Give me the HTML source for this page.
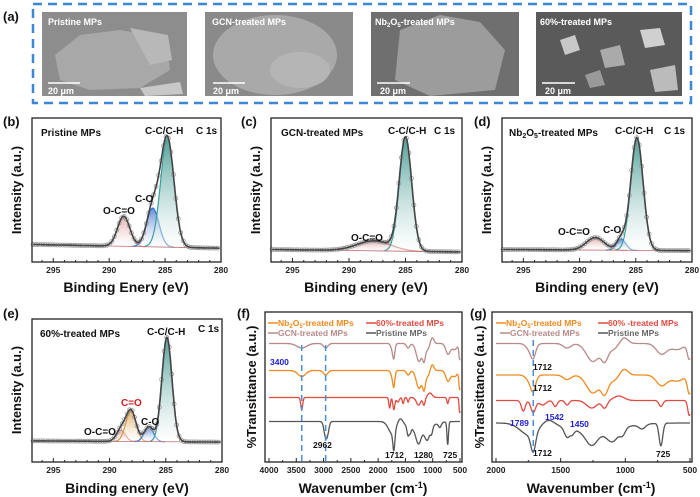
<!DOCTYPE html>
<html><head><meta charset="utf-8">
<style>
html,body{margin:0;padding:0;background:#fff;}
svg{display:block;font-family:"Liberation Sans",Arial,sans-serif;}
.tk{font-weight:bold;font-size:8.5px;fill:#222;}
</style></head>
<body>
<svg id="fig" width="700" height="497" viewBox="0 0 700 497">
<defs>
<linearGradient id="gT" x1="0" y1="0" x2="0" y2="1"><stop offset="0" stop-color="#2f8f86" stop-opacity="0.85"/><stop offset="1" stop-color="#ffffff" stop-opacity="0.4"/></linearGradient>
<linearGradient id="gB" x1="0" y1="0" x2="0" y2="1"><stop offset="0" stop-color="#3a6fd0" stop-opacity="0.8"/><stop offset="1" stop-color="#ffffff" stop-opacity="0.3"/></linearGradient>
<linearGradient id="gP" x1="0" y1="0" x2="0" y2="1"><stop offset="0" stop-color="#d88a8a" stop-opacity="0.7"/><stop offset="1" stop-color="#ffffff" stop-opacity="0.3"/></linearGradient>
<linearGradient id="gO" x1="0" y1="0" x2="0" y2="1"><stop offset="0" stop-color="#d89a40" stop-opacity="0.8"/><stop offset="1" stop-color="#ffffff" stop-opacity="0.3"/></linearGradient>
</defs>

<!-- Panel a -->
<text x="3" y="21" font-weight="bold" font-size="13" fill="#111">(a)</text>
<rect x="33" y="4" width="658" height="99" fill="none" stroke="#3c87d6" stroke-width="2.5" stroke-dasharray="9,6"/>
<g>
<rect x="42" y="12" width="145" height="84" fill="#8d8d8d"/>
<polygon points="55,55 80,35 120,30 165,38 170,70 140,88 90,90 60,80" fill="#a8a8a8"/>
<polygon points="130,28 168,35 172,60 150,65" fill="#b8b8b8"/>
<polygon points="140,88 180,82 183,94 145,96" fill="#c8c8c8"/>
<text x="48" y="25" fill="#fff" font-size="9" font-weight="bold">Pristine MPs</text>
<line x1="48" y1="83" x2="80" y2="83" stroke="#fff" stroke-width="1.5"/>
<text x="48" y="94" fill="#fff" font-size="9" font-weight="bold">20 μm</text>
</g>
<g>
<rect x="205" y="12" width="148" height="84" fill="#8a8a8a"/>
<ellipse cx="275" cy="55" rx="62" ry="40" fill="#a9a9a9"/>
<ellipse cx="300" cy="70" rx="30" ry="18" fill="#b5b5b5"/>
<text x="212" y="25" fill="#fff" font-size="9" font-weight="bold">GCN-treated MPs</text>
<line x1="213" y1="83" x2="245" y2="83" stroke="#fff" stroke-width="1.5"/>
<text x="213" y="94" fill="#fff" font-size="9" font-weight="bold">20 μm</text>
</g>
<g>
<rect x="371" y="12" width="148" height="84" fill="#6f6f6f"/>
<polygon points="400,30 440,15 480,22 505,50 495,90 430,96 395,80" fill="#9c9c9c"/>
<text x="375" y="25" fill="#fff" font-size="9" font-weight="bold">Nb<tspan font-size="6" dy="2">2</tspan><tspan dy="-2">O</tspan><tspan font-size="6" dy="2">5</tspan><tspan dy="-2">-treated MPs</tspan></text>
<line x1="377" y1="83" x2="410" y2="83" stroke="#fff" stroke-width="1.5"/>
<text x="380" y="94" fill="#fff" font-size="9" font-weight="bold">20 μm</text>
</g>
<g>
<rect x="536" y="12" width="146" height="84" fill="#5a5a5a"/>
<polygon points="560,40 575,35 580,50 565,55" fill="#c8c8c8"/>
<polygon points="600,50 620,45 625,65 605,68" fill="#aaa"/>
<polygon points="640,30 660,28 665,45 645,48" fill="#d0d0d0"/>
<polygon points="650,70 675,65 678,90 655,92" fill="#bbb"/>
<polygon points="585,75 600,70 605,85 590,88" fill="#999"/>
<text x="540" y="25" fill="#fff" font-size="9" font-weight="bold">60%-treated MPs</text>
<line x1="542" y1="83" x2="575" y2="83" stroke="#fff" stroke-width="1.5"/>
<text x="545" y="94" fill="#fff" font-size="9" font-weight="bold">20 μm</text>
</g>
<g id="plots"></g>
</svg>
<script>
// ---------- XPS data (center eV, height, sigma) ----------
const xpsTicks = [295, 290, 285, 280];
const bComps = [[288.7, 0.24, 0.55], [286.1, 0.31, 0.55], [284.8, 0.87, 0.6]];
const cComps = [[287.8, 0.08, 1.5], [285.0, 0.9, 0.55]];
const dComps = [[288.6, 0.10, 0.8], [286.3, 0.09, 0.4], [284.9, 0.9, 0.55]];
const eComps = [[289.0, 0.09, 0.4], [288.1, 0.25, 0.45], [286.5, 0.12, 0.4], [284.9, 0.84, 0.45]];
const bBase = [0.14, 0.11];
const cBase = [0.10, 0.08];
const dBase = [0.10, 0.09];
const eBase = [0.17, 0.16];
// ---------- FTIR data (center cm-1, depth, width) ----------
const ftirTicksF = [4000, 3500, 3000, 2500, 2000, 1500, 1000, 500];
const ftirTicksG = [2000, 1500, 1000, 500];
const gcnBands = [[3400,3,90],[2962,3,40],[1730,5,30],[1712,6,18],[1450,3,30],[1250,12,50],[1160,9,25],[1100,4,40],[1010,-4,30],[720,7,40],[600,4,50],[505,10,15]];
const nbBands = [[3400,4,70],[2962,3,40],[1730,5,30],[1712,7,18],[1450,3,30],[1250,12,50],[1160,10,25],[1100,4,40],[1010,-4,30],[720,7,40],[600,4,50],[505,12,15]];
const p60Bands = [[3400,8,18],[1789,7,15],[1712,8,18],[1640,3,25],[1542,4,15],[1450,3,15],[1260,5,40],[1160,5,20],[1050,-3,40],[725,4,15],[505,10,12]];
const priBands = [[2962,10,30],[2920,5,25],[1740,8,70],[1712,12,18],[1600,-4,50],[1450,6,20],[1410,3,15],[1260,9,45],[1250,6,200],[1100,8,45],[1020,4,20],[870,3,25],[725,15,14]];
const fOffsets = [79, 61, 43, 27]; // GCN, Nb2O5, 60%, pristine baselines (units)
const gOffsets = [79, 58, 41, 26];

const NS = "http://www.w3.org/2000/svg";
const root = document.getElementById("plots");
function mk(tag, attrs, parent) { const e = document.createElementNS(NS, tag); for (const k in attrs) e.setAttribute(k, attrs[k]); (parent || root).appendChild(e); return e; }
function gauss(x, c) { return c[1] * Math.exp(-((x - c[0]) ** 2) / (2 * c[2] * c[2])); }

function xpsPanel(name, box, comps, base, fills, strokes) {
  const g = mk("g", {});
  
  
  const [x0, y0, x1, y1] = box;
  const sx = v => x0 + (296.9 - v) / (296.9 - 280) * (x1 - x0);
  const sy = v => y1 - v * (y1 - y0) / 1.15;
  const bl = v => base[0] + (base[1] - base[0]) * (296.9 - v) / 16.9;
  comps.forEach((c, i) => {
    let d = "", lo = c[0] - 3.5 * c[2], hi = c[0] + 3.5 * c[2];
    for (let v = lo; v <= hi; v += 0.05) d += (d ? "L" : "M") + sx(v).toFixed(1) + "," + sy(bl(v) + gauss(v, c)).toFixed(1);
    const area = d + "L" + sx(hi).toFixed(1) + "," + sy(bl(hi)).toFixed(1) + "L" + sx(lo).toFixed(1) + "," + sy(bl(lo)).toFixed(1) + "Z";
    const a = mk("path", { d: area, fill: fills[i], stroke: "none" }, g);
    
    
    const l = mk("path", { d: d, fill: "none", stroke: strokes[i], "stroke-width": 1.2 }, g);
    
    
  });
  const blp = mk("line", { x1: sx(291), y1: sy(bl(291)), x2: sx(283), y2: sy(bl(283)), stroke: "#c07070", "stroke-width": 0.8 }, g);
  
  
  const tot = v => bl(v) + comps.reduce((s, c) => s + gauss(v, c), 0);
  let d = "";
  for (let v = 296.8; v >= 280.1; v -= 0.05) d += (d ? "L" : "M") + sx(v).toFixed(1) + "," + sy(tot(v)).toFixed(1);
  for (let v = 296.8; v >= 280.1; v -= 0.22) {
    const c = mk("circle", { cx: sx(v).toFixed(1), cy: sy(tot(v)).toFixed(1), r: 2, fill: "none", stroke: "#999", "stroke-width": 0.8 }, g);
    
    
  }
  const env = mk("path", { d: d, fill: "none", stroke: "#444", "stroke-width": 1.6 }, g);
  
  
  const fr = mk("rect", { x: x0, y: y0, width: x1 - x0, height: y1 - y0, fill: "none", stroke: "#222", "stroke-width": 1.3 }, g);
  
  
  for (let v = 296; v >= 280; v -= 1) {
    mk("line", { x1: sx(v), y1: y1, x2: sx(v), y2: y1 - (v % 5 === 0 ? 4 : 2), stroke: "#222" }, g);
  }
  xpsTicks.forEach(v => {
    const t = mk("text", { x: sx(v), y: y1 + 11, class: "tk", "text-anchor": "middle" }, g);
    t.textContent = v;
    
    
  });
}

const P = "url(#gP)", B = "url(#gB)", T = "url(#gT)", O = "url(#gO)";
xpsPanel("xps-pristine", [32, 118, 221, 262], bComps, bBase, [P, B, T], ["#d08a8a", "#2f78d0", "#3aa0a0"]);
xpsPanel("xps-gcn", [271, 118, 462, 262], cComps, cBase, [P, T], ["#c07060", "#3aa0a0"]);
xpsPanel("xps-nb2o5", [502, 118, 692, 262], dComps, dBase, [P, B, T], ["#d08a8a", "#2f78d0", "#3aa0a0"]);
xpsPanel("xps-60pct", [32, 319, 222, 462], eComps, eBase, [P, O, B, T], ["#d08a8a", "#d89a40", "#2f78d0", "#3aa0a0"]);

function ftirPanel(name, box, lo, hi, ticks, offsets, minor) {
  const g = mk("g", {});
  
  
  const [x0, y0, x1, y1] = box;
  const sx = v => x0 + 4 + (lo - v) / (lo - hi) * (x1 - x0 - 6);
  const sy = v => y1 - v * 1.5;
  const sets = [gcnBands, nbBands, p60Bands, priBands];
  const cols = ["#b88a8a", "#f08a20", "#e04a40", "#555"];
  const names = ["gcn", "nb2o5", "60pct", "pristine"];
  sets.forEach((bands, i) => {
    let d = "";
    for (let v = lo; v >= hi; v -= 2) {
      let y = offsets[i];
      bands.forEach(b => y -= b[1] * Math.exp(-((v - b[0]) ** 2) / (2 * b[2] * b[2])));
      d += (d ? "L" : "M") + sx(v).toFixed(1) + "," + sy(y).toFixed(1);
    }
    const p = mk("path", { d: d, fill: "none", stroke: cols[i], "stroke-width": 1.3 }, g);
    
    
  });
  const fr = mk("rect", { x: x0, y: y0, width: x1 - x0, height: y1 - y0, fill: "none", stroke: "#222", "stroke-width": 1.3 }, g);
  
  
  for (let v = lo; v >= hi; v -= minor) mk("line", { x1: sx(v), y1: y1, x2: sx(v), y2: y1 - ((lo - v) % (minor * 2) === 0 ? 4 : 2), stroke: "#222" }, g);
  ticks.forEach(v => {
    const t = mk("text", { x: sx(v), y: y1 + 11, class: "tk", "text-anchor": "middle" }, g);
    t.textContent = v;
    
    
  });
  return sx;
}
const fx = ftirPanel("ftir-full", [265, 312, 462, 462], 4000, 500, ftirTicksF, fOffsets, 250);
const gx = ftirPanel("ftir-zoom", [492, 312, 692, 462], 2000, 500, ftirTicksG, gOffsets, 250);
[3400, 2962].forEach(v => {
  const l = mk("line", { x1: fx(v), y1: 345, x2: fx(v), y2: 462, stroke: "#4a8fd8", "stroke-width": 1.5, "stroke-dasharray": "6,4" });
  
  
});
{
  const l = mk("line", { x1: gx(1712), y1: 340, x2: gx(1712), y2: 452, stroke: "#4a8fd8", "stroke-width": 1.5, "stroke-dasharray": "6,4" });
  
  
}
</script>

<div style="position:absolute;left:0;top:0;width:700px;height:497px;pointer-events:none">
<svg width="700" height="497" style="font-family:'Liberation Sans',Arial,sans-serif">
<style>.pl{font-weight:bold;font-size:13px;fill:#111}.ax{font-weight:bold;font-size:14px;fill:#111}.yl{font-weight:bold;font-size:13px;fill:#111}.ann{font-weight:bold;font-size:8.5px;fill:#111}.lg{font-weight:bold;font-size:8.5px}.in{font-weight:bold;font-size:10px;fill:#111}</style>
<text class="pl" x="3" y="126">(b)</text>
<text class="pl" x="241" y="126">(c)</text>
<text class="pl" x="474" y="126">(d)</text>
<text class="in" x="41" y="136">Pristine MPs</text>
<text class="in" x="145" y="134" font-size="9">C-C/C-H</text>
<text class="in" x="196" y="134" font-size="9">C 1s</text>
<text class="in" x="135" y="202" font-size="9">C-O</text>
<text class="in" x="103" y="214" font-size="9">O-C=O</text>
<text class="in" x="281" y="136">GCN-treated MPs</text>
<text class="in" x="388" y="134" font-size="9">C-C/C-H</text>
<text class="in" x="434" y="134" font-size="9">C 1s</text>
<text class="in" x="351" y="241" font-size="9">O-C=O</text>
<text class="in" x="509" y="136">Nb<tspan font-size="7" dy="2">2</tspan><tspan dy="-2">O</tspan><tspan font-size="7" dy="2">5</tspan><tspan dy="-2">-treated MPs</tspan></text>
<text class="in" x="615" y="134" font-size="9">C-C/C-H</text>
<text class="in" x="664" y="134" font-size="9">C 1s</text>
<text class="in" x="603" y="233" font-size="9">C-O</text>
<text class="in" x="558" y="235" font-size="9">O-C=O</text>
<text class="ax" x="126" y="292" text-anchor="middle">Binding Enery (eV)</text>
<text class="ax" x="366" y="292" text-anchor="middle">Binding enery (eV)</text>
<text class="ax" x="597" y="292" text-anchor="middle">Binding enery (eV)</text>
<text class="yl" transform="translate(21,190) rotate(-90)" text-anchor="middle">Intensity (a.u.)</text>
<text class="yl" transform="translate(260,190) rotate(-90)" text-anchor="middle">Intensity (a.u.)</text>
<text class="yl" transform="translate(491,190) rotate(-90)" text-anchor="middle">Intensity (a.u.)</text>
<text class="pl" x="3" y="318">(e)</text>
<text class="pl" x="237" y="318">(f)</text>
<text class="pl" x="470" y="318">(g)</text>
<text class="in" x="40" y="337">60%-treated MPs</text>
<text class="in" x="147" y="335" font-size="9">C-C/C-H</text>
<text class="in" x="198" y="332" font-size="9">C 1s</text>
<text class="in" x="121" y="406" font-size="9" style="fill:#d02020">C=O</text>
<text class="in" x="141" y="425" font-size="9">C-O</text>
<text class="in" x="84" y="435" font-size="9">O-C=O</text>
<text class="ax" x="127" y="493" text-anchor="middle">Binding enery (eV)</text>
<text class="yl" transform="translate(21,390) rotate(-90)" text-anchor="middle">Intensity (a.u.)</text>
<text class="ax" x="363" y="493" text-anchor="middle">Wavenumber (cm<tspan font-size="9" dy="-5">-1</tspan><tspan dy="5">)</tspan></text>
<text class="ax" x="591" y="493" text-anchor="middle">Wavenumber (cm<tspan font-size="9" dy="-5">-1</tspan><tspan dy="5">)</tspan></text>
<text class="yl" transform="translate(256,387) rotate(-90)" text-anchor="middle">%Transittance (a.u.)</text>
<text class="yl" transform="translate(484,387) rotate(-90)" text-anchor="middle">%Transittance (a.u.)</text>
<g>
<line x1="268" y1="323" x2="278" y2="323" stroke="#f08a20" stroke-width="1.5"/><text class="lg" x="278" y="326" fill="#f08a20">Nb<tspan font-size="6" dy="2">2</tspan><tspan dy="-2">O</tspan><tspan font-size="6" dy="2">5</tspan><tspan dy="-2">-treated MPs</tspan></text>
<line x1="366" y1="323" x2="376" y2="323" stroke="#e04a40" stroke-width="1.5"/><text class="lg" x="376" y="326" fill="#e04a40">60%-treated MPs</text>
<line x1="268" y1="333" x2="278" y2="333" stroke="#b88a8a" stroke-width="1.5"/><text class="lg" x="278" y="336" fill="#b88a8a">GCN-treated MPs</text>
<line x1="366" y1="333" x2="376" y2="333" stroke="#555" stroke-width="1.5"/><text class="lg" x="376" y="336" fill="#666">Pristine MPs</text>
</g>
<g>
<line x1="496" y1="323" x2="506" y2="323" stroke="#f08a20" stroke-width="1.5"/><text class="lg" x="506" y="326" fill="#f08a20">Nb<tspan font-size="6" dy="2">2</tspan><tspan dy="-2">O</tspan><tspan font-size="6" dy="2">5</tspan><tspan dy="-2">-treated MPs</tspan></text>
<line x1="598" y1="323" x2="608" y2="323" stroke="#e04a40" stroke-width="1.5"/><text class="lg" x="608" y="326" fill="#e04a40">60% -treated MPs</text>
<line x1="500" y1="333" x2="510" y2="333" stroke="#b88a8a" stroke-width="1.5"/><text class="lg" x="510" y="336" fill="#b88a8a">GCN-treated MPs</text>
<line x1="598" y1="333" x2="608" y2="333" stroke="#555" stroke-width="1.5"/><text class="lg" x="608" y="336" fill="#666">Pristine MPs</text>
</g>
<text class="ann" x="270" y="365" style="fill:#2020d0">3400</text>
<text class="ann" x="313" y="448">2962</text>
<text class="ann" x="385" y="458">1712</text>
<text class="ann" x="414" y="458">1280</text>
<text class="ann" x="443" y="458">725</text>
<text class="ann" x="533" y="370">1712</text>
<text class="ann" x="533" y="391">1712</text>
<text class="ann" x="533" y="456">1712</text>
<text class="ann" x="510" y="426" style="fill:#2020d0">1789</text>
<text class="ann" x="545" y="420" style="fill:#2020d0">1542</text>
<text class="ann" x="570" y="427" style="fill:#2020d0">1450</text>
<text class="ann" x="656" y="457">725</text>
</svg>
</div>
</body></html>
